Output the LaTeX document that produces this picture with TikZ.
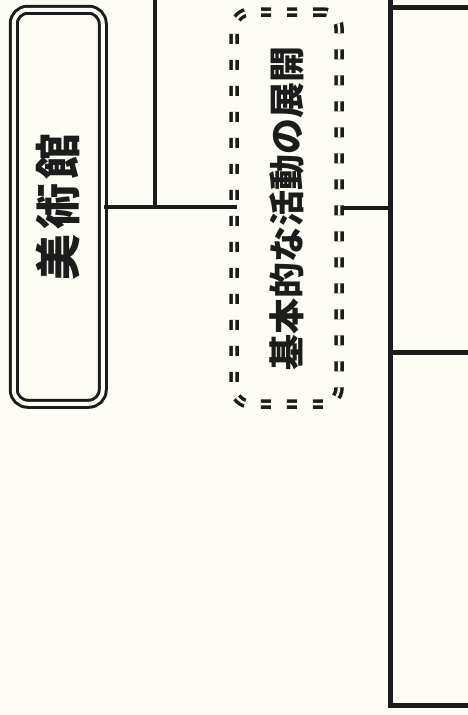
\documentclass[tikz,border=0pt]{standalone}
\usepackage{fontspec}
\newfontfamily\jpfont{Noto Sans CJK JP}
\newfontfamily\jpspaced{Noto Sans CJK JP}[LetterSpace=10]
\definecolor{paper}{RGB}{253,253,245}
\definecolor{ink}{RGB}{28,28,28}
\begin{document}
\begin{tikzpicture}[x=1pt,y=-1pt,color=ink,
    museumbox/.style={draw,rounded corners=14pt,double=paper,double distance=4pt,
      line width=3pt,minimum width=89pt,minimum height=394pt,inner sep=0pt},
    dashbox/.style={draw,rounded corners=16pt,double=paper,double distance=2.5pt,
      line width=3.5pt,dash pattern=on 10pt off 16pt,minimum width=105pt,
      minimum height=392pt,inner sep=0pt},
    branch/.style={line width=4pt},
    frame/.style={line width=5pt}]
    \fill[paper] (0,0) rectangle (468,715);
    \useasboundingbox (0,0) rectangle (468,715);
    \node[museumbox] (museum) at (58.25,206.75)
      {\rotatebox{90}{\jpspaced\bfseries\fontsize{46}{46}\selectfont 美術館}};
    \node[dashbox] (basic) at (286.5,208)
      {\rotatebox{90}{\jpfont\bfseries\fontsize{36}{36}\selectfont 基本的な活動の展開}};
    \coordinate (topA) at (155,0);
    \coordinate (frameTop) at (390.5,0);
    \coordinate (frameBot) at (390.5,705.5);
    \coordinate (edgeTop) at (468,7);
    \coordinate (edgeMid) at (468,352);
    \coordinate (edgeBot) at (468,705.5);
    \draw[branch,shorten >=-5pt] (museum.east) -- (museum.east -| basic.west);
    \draw[branch] (topA) -- (topA |- museum.east);
    \draw[branch] (basic.east) -- (basic.east -| frameTop);
    \draw[frame] (frameTop) -- (frameBot) -- (edgeBot);
    \draw[frame] (frameTop |- edgeTop) -- (edgeTop);
    \draw[frame] (frameTop |- edgeMid) -- (edgeMid);
  \end{tikzpicture}
\end{document}
